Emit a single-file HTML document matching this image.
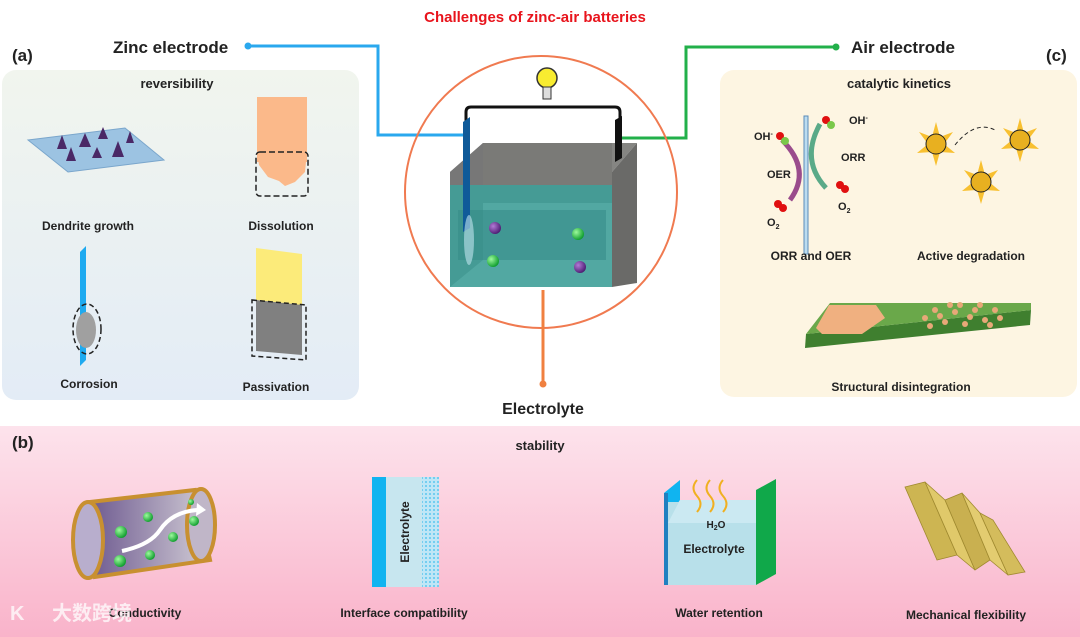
<!DOCTYPE html>
<html><head><meta charset="utf-8"><style>
html,body{margin:0;padding:0;background:#fff;}
svg{display:block;font-family:"Liberation Sans",Arial,sans-serif;font-weight:bold;}
</style></head><body>
<svg width="1080" height="637" viewBox="0 0 1080 637" xmlns="http://www.w3.org/2000/svg">
<defs>
<linearGradient id="ga" x1="0" y1="0" x2="0" y2="1"><stop offset="0" stop-color="#f1f5ee"/><stop offset="1" stop-color="#e3ecf6"/></linearGradient>
<linearGradient id="gb" x1="0" y1="0" x2="0" y2="1"><stop offset="0" stop-color="#fde3ec"/><stop offset="1" stop-color="#f9b3ca"/></linearGradient>
<linearGradient id="tube" x1="0" y1="0" x2="1" y2="0"><stop offset="0" stop-color="#6e5a90"/><stop offset="1" stop-color="#d2cdd6"/></linearGradient>
<radialGradient id="grn" cx="0.35" cy="0.35" r="0.7"><stop offset="0" stop-color="#9dfa9d"/><stop offset="1" stop-color="#0a9a2a"/></radialGradient>
<radialGradient id="pur" cx="0.35" cy="0.35" r="0.7"><stop offset="0" stop-color="#b37ad6"/><stop offset="1" stop-color="#4a1a70"/></radialGradient>
<pattern id="dots" width="4" height="4" patternUnits="userSpaceOnUse"><rect width="4" height="4" fill="#bfe6f6"/><circle cx="2" cy="2" r="1" fill="#5cc6ee"/></pattern>
</defs>

<rect x="0" y="426" width="1080" height="211" fill="url(#gb)"/>
<rect x="2" y="70" width="357" height="330" rx="14" fill="url(#ga)"/>
<rect x="720" y="70" width="357" height="327" rx="14" fill="#fdf5e2"/>

<text x="535" y="22" text-anchor="middle" fill="#e8141c" font-size="15">Challenges of zinc-air batteries</text>
<text x="12" y="61" font-size="17" fill="#222">(a)</text>
<text x="1046" y="61" font-size="17" fill="#222">(c)</text>
<text x="113" y="53" font-size="17" fill="#222">Zinc electrode</text>
<text x="851" y="53" font-size="17" fill="#222">Air electrode</text>

<polyline points="248,46 378,46 378,135 464,135" fill="none" stroke="#2aa8ee" stroke-width="3"/>
<circle cx="248" cy="46" r="3.5" fill="#2aa8ee"/>
<polyline points="836,47 686,47 686,138 622,138" fill="none" stroke="#22b04a" stroke-width="3"/>
<circle cx="836" cy="47" r="3.5" fill="#22b04a"/>

<circle cx="541" cy="192" r="136" fill="none" stroke="#f07a50" stroke-width="2"/>
<line x1="543" y1="290" x2="543" y2="383" stroke="#f08040" stroke-width="3"/>
<circle cx="543" cy="384" r="3.5" fill="#f08040"/>
<text x="543" y="414" text-anchor="middle" font-size="16" fill="#222">Electrolyte</text>

<path d="M466,122 L466,112 Q466,107 471,107 L615,107 Q620,107 620,112 L620,120" fill="none" stroke="#111" stroke-width="3"/>
<circle cx="547" cy="78" r="10" fill="#f8ec30" stroke="#333" stroke-width="1.5"/>
<rect x="543" y="87" width="8" height="12" fill="#ddd" stroke="#333"/>
<polygon points="450,172 483,143 637,143 612,172" fill="#858582"/>
<rect x="483" y="143" width="129" height="60" fill="#7a7a77"/>
<polygon points="450,172 483,143 483,260 450,287" fill="#777"/>
<polygon points="612,172 637,143 637,283 612,287" fill="#6a6a68"/>
<rect x="450" y="185" width="162" height="102" fill="#3f9e98" opacity="0.9"/>
<rect x="458" y="210" width="148" height="50" fill="#378c88" opacity="0.6"/>
<polygon points="463,122 470,117 470,228 463,232" fill="#0f5a99"/>
<polygon points="615,120 622,116 622,158 615,162" fill="#111"/>
<ellipse cx="469" cy="240" rx="5" ry="25" fill="#bfe4ee" opacity="0.6"/>
<circle cx="495" cy="228" r="6" fill="url(#pur)"/>
<circle cx="578" cy="234" r="6" fill="url(#grn)"/>
<circle cx="493" cy="261" r="6" fill="url(#grn)"/>
<circle cx="580" cy="267" r="6" fill="url(#pur)"/>

<!-- panel a -->
<text x="177" y="88" text-anchor="middle" font-size="13" fill="#222">reversibility</text>
<polygon points="28,140 125,128 164,160 68,172" fill="#9cc3e2" stroke="#7aa6cc"/>
<g fill="#4a2866">
<polygon points="57,149 62,135 67,149"/><polygon points="66,161 71,147 76,161"/><polygon points="79,147 85,133 91,147"/>
<polygon points="92,158 97,147 102,158"/><polygon points="98,139 103,127 108,139"/><polygon points="112,157 118,141 124,157"/><polygon points="126,143 130,131 134,143"/></g>
<rect x="257" y="97" width="50" height="65" fill="#fbb98a"/>
<path d="M257,152 L307,152 L305,172 L295,182 L285,186 L279,181 L268,177 L259,165 Z" fill="#fbb98a"/>
<rect x="256" y="152" width="52" height="44" fill="none" stroke="#222" stroke-width="1.5" stroke-dasharray="6,3" rx="4"/>
<text x="88" y="230" text-anchor="middle" font-size="12" fill="#222">Dendrite growth</text>
<text x="281" y="230" text-anchor="middle" font-size="12" fill="#222">Dissolution</text>
<polygon points="80,252 86,246 86,360 80,366" fill="#1eaaf0"/>
<ellipse cx="86" cy="330" rx="10" ry="18" fill="#a0a0a0"/>
<ellipse cx="87" cy="329" rx="14" ry="25" fill="none" stroke="#222" stroke-width="1.5" stroke-dasharray="5,3"/>
<polygon points="256,248 302,254 302,305 256,300" fill="#fceb7a"/>
<polygon points="256,300 302,305 302,355 256,351" fill="#808080"/>
<polygon points="252,300 306,305 306,360 252,356" fill="none" stroke="#222" stroke-width="1.5" stroke-dasharray="5,3"/>
<text x="89" y="388" text-anchor="middle" font-size="12" fill="#222">Corrosion</text>
<text x="276" y="391" text-anchor="middle" font-size="12" fill="#222">Passivation</text>

<!-- panel c -->
<text x="899" y="88" text-anchor="middle" font-size="13" fill="#222">catalytic kinetics</text>
<rect x="804" y="116" width="4" height="138" fill="#bcdcef" stroke="#5a8cb8"/>
<path d="M782,140 Q812,170 790,200" fill="none" stroke="#9a4c8c" stroke-width="5"/>
<path d="M826,188 Q800,160 820,124" fill="none" stroke="#5aaa88" stroke-width="5"/>
<circle cx="780" cy="136" r="4" fill="#e01010"/><circle cx="785" cy="141" r="4" fill="#7ac84a"/>
<circle cx="826" cy="120" r="4" fill="#e01010"/><circle cx="831" cy="125" r="4" fill="#7ac84a"/>
<circle cx="778" cy="204" r="4" fill="#e01010"/><circle cx="783" cy="208" r="4" fill="#e01010"/>
<circle cx="840" cy="185" r="4" fill="#e01010"/><circle cx="845" cy="189" r="4" fill="#e01010"/>
<text x="754" y="140" font-size="11" fill="#222">OH<tspan font-size="7" dy="-4">-</tspan></text>
<text x="849" y="124" font-size="11" fill="#222">OH<tspan font-size="7" dy="-4">-</tspan></text>
<text x="841" y="161" font-size="11" fill="#222">ORR</text>
<text x="767" y="178" font-size="11" fill="#222">OER</text>
<text x="838" y="210" font-size="11" fill="#222">O<tspan font-size="7" dy="3">2</tspan></text>
<text x="767" y="226" font-size="11" fill="#222">O<tspan font-size="7" dy="3">2</tspan></text>
<text x="811" y="260" text-anchor="middle" font-size="12" fill="#222">ORR and OER</text>
<g fill="#f8c030">
<polygon points="932,137 936,122 940,137 953,132 944,144 955,153 940,152 936,166 932,152 917,153 928,144 919,132"/>
<polygon points="977,175 981,160 985,175 998,170 989,182 1000,191 985,190 981,204 977,190 962,191 973,182 964,170"/>
<polygon points="1016,133 1020,118 1024,133 1037,128 1028,140 1039,149 1024,148 1020,162 1016,148 1001,149 1012,140 1003,128"/>
</g>
<circle cx="936" cy="144" r="10" fill="#e8b020" stroke="#222"/>
<circle cx="981" cy="182" r="10" fill="#e8b020" stroke="#222"/>
<circle cx="1020" cy="140" r="10" fill="#e8b020" stroke="#222"/>
<path d="M955,145 Q975,120 995,130" fill="none" stroke="#222" stroke-dasharray="4,3"/>
<text x="971" y="260" text-anchor="middle" font-size="12" fill="#222">Active degradation</text>
<polygon points="806,334 1031,310 1030,325 805,348" fill="#3f7f2f"/>
<polygon points="806,334 830,303 1031,303 1031,310" fill="#6aa84a"/>
<polygon points="816,328 829,305 876,305 885,318 862,334 822,334" fill="#f0b080"/>
<g fill="#e8a878"><circle cx="925" cy="318" r="3"/><circle cx="935" cy="310" r="3"/><circle cx="945" cy="322" r="3"/><circle cx="955" cy="312" r="3"/><circle cx="965" cy="324" r="3"/><circle cx="975" cy="310" r="3"/><circle cx="985" cy="320" r="3"/><circle cx="995" cy="310" r="3"/><circle cx="930" cy="326" r="3"/><circle cx="950" cy="305" r="3"/><circle cx="970" cy="317" r="3"/><circle cx="990" cy="325" r="3"/><circle cx="1000" cy="318" r="3"/><circle cx="940" cy="316" r="3"/><circle cx="960" cy="305" r="3"/><circle cx="980" cy="305" r="3"/></g>
<text x="901" y="391" text-anchor="middle" font-size="12" fill="#222">Structural disintegration</text>

<!-- panel b -->
<text x="12" y="448" font-size="17" fill="#222">(b)</text>
<text x="540" y="450" text-anchor="middle" font-size="13" fill="#222">stability</text>
<polygon points="90,502 195,490 210,560 95,577" fill="url(#tube)" stroke="#c89030" stroke-width="4"/>
<ellipse cx="201" cy="525" rx="14" ry="36" fill="#c0b6c8" stroke="#c89030" stroke-width="4"/>
<ellipse cx="88" cy="540" rx="15" ry="38" fill="#b8aecd" stroke="#c89030" stroke-width="4"/>
<path d="M122,551 Q150,545 160,530 Q172,512 197,510" fill="none" stroke="#fff" stroke-width="4"/>
<polygon points="197,503 206,510 196,516" fill="#fff"/>
<g fill="url(#grn)"><circle cx="121" cy="532" r="6"/><circle cx="148" cy="517" r="5"/><circle cx="173" cy="537" r="5"/><circle cx="150" cy="555" r="5"/><circle cx="120" cy="561" r="6"/><circle cx="194" cy="521" r="5"/><circle cx="191" cy="502" r="3"/></g>
<text x="145" y="617" text-anchor="middle" font-size="12" fill="#222">Conductivity</text>
<text x="52" y="620" font-size="20" fill="#fff" opacity="0.75" font-family="'Noto Sans CJK SC',sans-serif">大数跨境</text>
<text x="10" y="620" font-size="20" fill="#fff" opacity="0.75">K</text>
<rect x="372" y="477" width="14" height="110" fill="#10b4f0"/>
<rect x="386" y="477" width="36" height="110" fill="#c7e6ef"/>
<rect x="422" y="477" width="17" height="110" fill="url(#dots)"/>
<text transform="translate(409,532) rotate(-90)" text-anchor="middle" font-size="12" fill="#222">Electrolyte</text>
<text x="404" y="617" text-anchor="middle" font-size="12" fill="#222">Interface compatibility</text>
<polygon points="664,493 680,480 680,500 664,523" fill="#10b4f0"/>
<rect x="664" y="493" width="4" height="92" fill="#2080c0"/>
<polygon points="668,502 680,502 756,502 756,585 668,585" fill="#b8e0ea"/>
<polygon points="668,523 680,500 756,500 756,523" fill="#cbe9f2"/>
<polygon points="756,490 776,479 776,574 756,585" fill="#10a84a"/>
<g fill="none" stroke="#f0b020" stroke-width="2"><path d="M697,480 Q690,488 697,496 Q704,504 697,512"/><path d="M710,480 Q703,488 710,496 Q717,504 710,512"/><path d="M723,480 Q716,488 723,496 Q730,504 723,512"/></g>
<text x="716" y="528" text-anchor="middle" font-size="10" fill="#222">H<tspan font-size="7" dy="2">2</tspan><tspan dy="-2">O</tspan></text>
<text x="714" y="553" text-anchor="middle" font-size="12" fill="#222">Electrolyte</text>
<text x="719" y="617" text-anchor="middle" font-size="12" fill="#222">Water retention</text>
<g stroke="#a08a30" stroke-width="0.8">
<polygon points="905,487 925,482 957,555 937,560" fill="#cdb552"/>
<polygon points="925,482 945,500 975,570 957,555" fill="#e0c96a"/>
<polygon points="945,500 962,493 990,560 975,570" fill="#c9b050"/>
<polygon points="962,493 980,513 1008,575 990,560" fill="#e3cc70"/>
<polygon points="980,513 993,520 1025,572 1008,575" fill="#d4bc5c"/>
</g>
<text x="966" y="619" text-anchor="middle" font-size="12" fill="#222">Mechanical flexibility</text>
</svg>
</body></html>
